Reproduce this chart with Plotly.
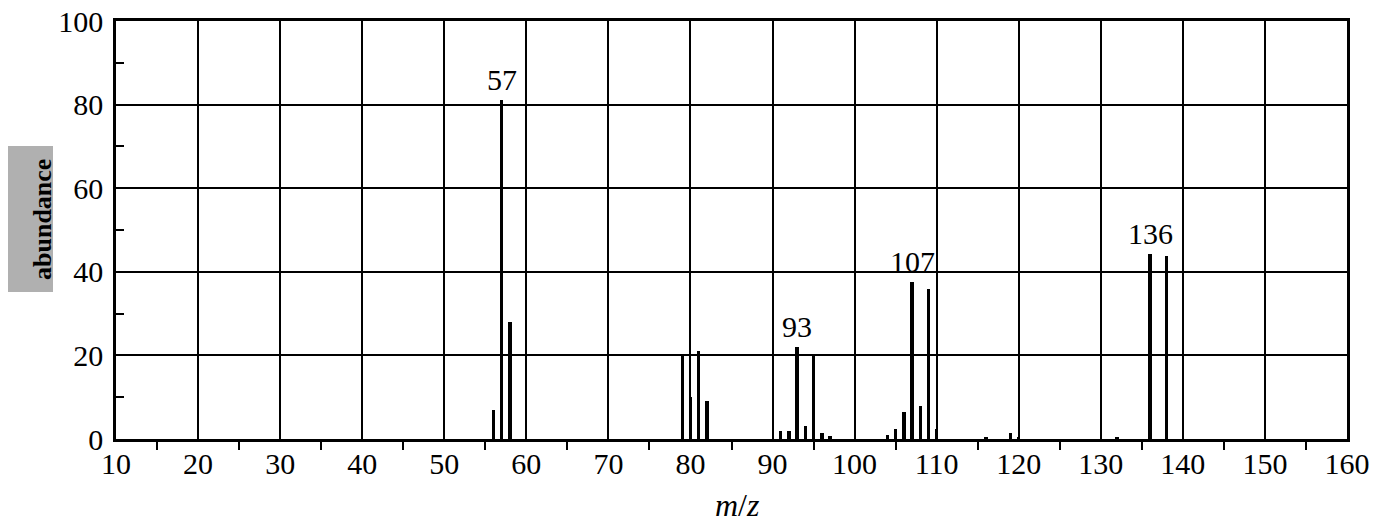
import plotly.graph_objects as go

# Mass spectrum: m/z values and relative abundances
mz = [56, 57, 58, 79, 80, 81, 82, 91, 92, 93, 94, 95, 96, 97,
      104, 105, 106, 107, 108, 109, 110, 116, 119, 120, 132, 136, 138]
abundance = [7, 81, 28, 20, 10, 21, 9, 2, 2, 22, 3, 20, 1.5, 0.8,
             1, 2.5, 6.4, 37.5, 8, 36, 2.5, 0.5, 1.5, 0.5, 0.4, 44.2, 43.7]

# Peaks that carry an m/z label
labelled = [57, 93, 107, 136]

x_ticks = list(range(10, 161, 10))
y_ticks = list(range(0, 101, 20))

FONT = "Liberation Serif"
W, H = 1389, 526
ML, MR, MT, MB = 116, 42, 21, 87
PW, PH = W - ML - MR, H - MT - MB


def px_x(p):
    """Pixel column -> paper x."""
    return (p - ML) / PW


def px_y(p):
    """Pixel row -> paper y."""
    return (H - MB - p) / PH


fig = go.Figure()
fig.add_trace(go.Bar(
    x=mz, y=abundance, width=0.42,
    marker=dict(color="black", line=dict(width=0)),
    showlegend=False, hoverinfo="x+y",
))

for m in labelled:
    fig.add_annotation(
        x=m, y=abundance[mz.index(m)], text=str(m),
        showarrow=False, yanchor="bottom", yshift=2,
        font=dict(family=FONT, size=30, color="black"),
    )

fig.add_annotation(
    xref="paper", yref="paper", x=0.505, y=-0.11, text="<i>m</i>/<i>z</i>",
    showarrow=False, yanchor="top",
    font=dict(family=FONT, size=32, color="black"),
)

# shaded band behind the y-axis title
fig.add_shape(
    type="rect", xref="paper", yref="paper",
    x0=px_x(8), x1=px_x(53), y0=px_y(292), y1=px_y(146),
    fillcolor="#b0b0b0", line=dict(width=0), layer="below",
)
fig.add_annotation(
    xref="paper", yref="paper", x=px_x(42), y=px_y(220),
    xanchor="center", yanchor="middle",
    text="<b>abundance</b>", textangle=-90, showarrow=False,
    font=dict(family=FONT, size=26, color="black"),
)

fig.update_xaxes(
    range=[10, 160], tickvals=x_ticks, ticktext=[str(v) for v in x_ticks],
    ticks="", ticklabelstandoff=-4,
    showgrid=True, gridcolor="black", gridwidth=1.5,
    showline=True, linecolor="black", linewidth=2.5, mirror=True,
    zeroline=False,
    minor=dict(ticks="outside", ticklen=8, tickwidth=2, tickcolor="black",
               tick0=15, dtick=10, showgrid=False),
    tickfont=dict(family=FONT, size=30, color="black"),
)
fig.update_yaxes(
    range=[0, 100], tickvals=y_ticks, ticktext=[str(v) for v in y_ticks],
    ticks="", ticklabelstandoff=4,
    showgrid=True, gridcolor="black", gridwidth=1.5,
    showline=True, linecolor="black", linewidth=2.5, mirror=True,
    zeroline=False,
    minor=dict(ticks="inside", ticklen=8, tickwidth=2, tickcolor="black",
               tick0=10, dtick=20, showgrid=False),
    tickfont=dict(family=FONT, size=30, color="black"),
)

fig.update_layout(
    width=W, height=H,
    margin=dict(l=ML, r=MR, t=MT, b=MB, autoexpand=False),
    plot_bgcolor="white", paper_bgcolor="white",
    bargap=0,
)

fig.write_html("out.html")
